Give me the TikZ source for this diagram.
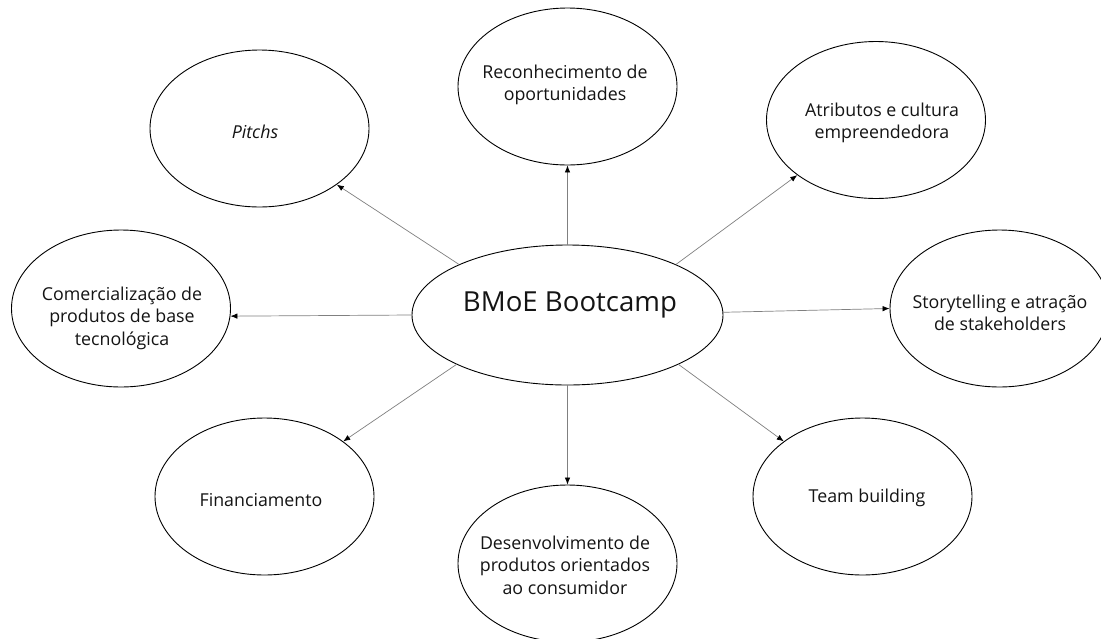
\documentclass[tikz,border=0pt]{standalone}
\usepackage{fontspec}
\setmainfont{Open Sans}
\usetikzlibrary{shapes.geometric,arrows.meta}
\begin{document}
\begin{tikzpicture}[x=1pt,y=-1pt,
  bubble/.style={draw=black,line width=0.9pt,ellipse,minimum width=219pt,minimum height=157pt,inner sep=0pt},
  hub/.style={draw=black,line width=0.9pt,ellipse,minimum width=311pt,minimum height=140pt,inner sep=0pt},
  lbl/.style={align=center,font=\fontsize{17.8}{22.5}\selectfont,text=black!92,inner sep=0pt},
  link/.style={draw=black!50,line width=0.7pt,-{Latex[length=7pt,width=5.5pt,color=black]}}]
\useasboundingbox[fill=white] (0,0) rectangle (1101,638);
% hub
\node[hub] (c) at (567.5,315) {};
\node[lbl,font=\fontsize{27.6}{32}\selectfont] (ct) at (570,305) {BMoE Bootcamp};
% outer bubbles
\node[bubble] (p) at (259.5,128.5) {};
\node[lbl] (pt) at (255,132) {\textit{Pitchs}};
\node[bubble] (r) at (567.5,86.5) {};
\node[lbl] (rt) at (565,85) {Reconhecimento de\\oportunidades};
\node[bubble] (a) at (876,120) {};
\node[lbl] (at) at (882,123) {Atributos e cultura\\empreendedora};
\node[bubble] (s) at (999.5,308.5) {};
\node[lbl] (st) at (1000,313) {Storytelling e atração\\de stakeholders};
\node[bubble] (m) at (121,308.5) {};
\node[lbl] (mt) at (122,318) {Comercialização de\\produtos de base\\tecnológica};
\node[bubble] (f) at (264.5,496.5) {};
\node[lbl] (ft) at (261,500) {Financiamento};
\node[bubble] (d) at (567.5,563.5) {};
\node[lbl] (dt) at (565,565) {Desenvolvimento de\\produtos orientados\\ao consumidor};
\node[bubble] (t) at (862.5,496.5) {};
\node[lbl] (tt) at (867,498) {Team building};
% connectors
\draw[link] (c.155.7) -- (p.-36.7);
\draw[link] (c.90) -- (r.270);
\draw[link] (c.25.2) -- (a.215.8);
\draw[link] (c.1.8) -- (s.180);
\draw[link] (c.180) -- (m.-4.5);
\draw[link] (c.204) -- (f.35.7);
\draw[link] (c.270) -- (d.90);
\draw[link] (c.336) -- (t.145.6);
\end{tikzpicture}
\end{document}
